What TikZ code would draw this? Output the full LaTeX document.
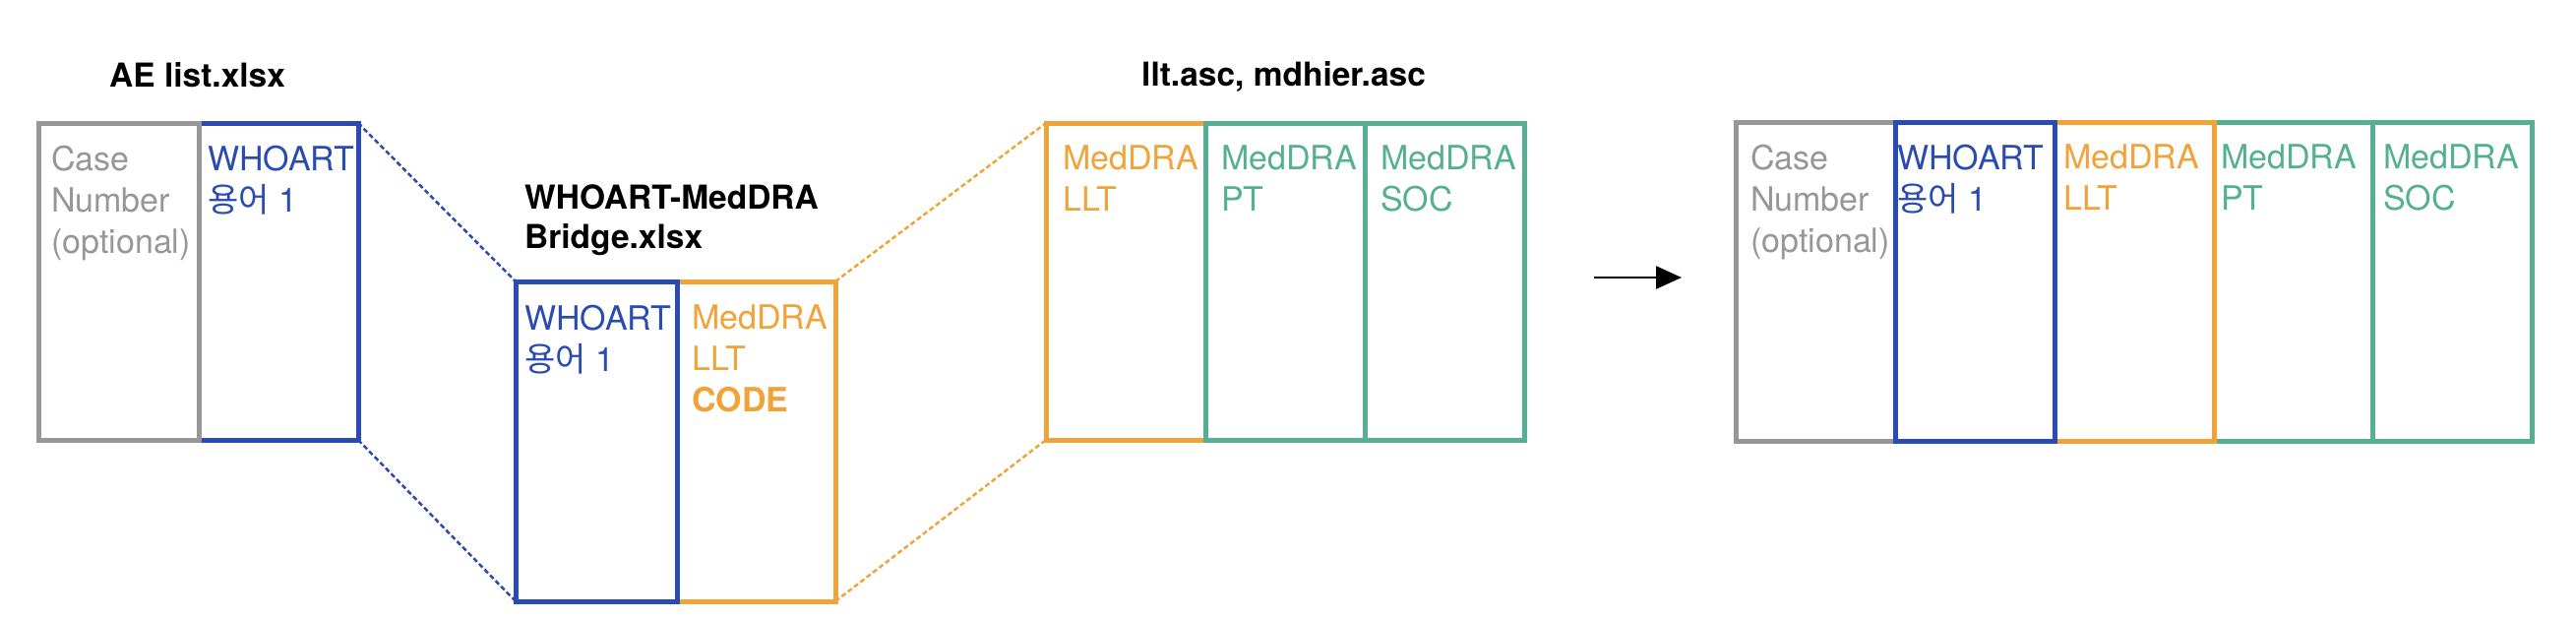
\documentclass[tikz,border=0pt]{standalone}
\usepackage{fontspec}
\setmainfont{TeX Gyre Heros}
\newfontfamily\cjk{Noto Sans CJK KR}
\usetikzlibrary{arrows.meta}
\definecolor{cgray}{HTML}{979797}
\definecolor{cblue}{HTML}{2A4BAF}
\definecolor{corange}{HTML}{F0A339}
\definecolor{cgreen}{HTML}{55AF93}
\begin{document}
\begin{tikzpicture}[x=1pt,y=-1pt,
  col/.style={draw=#1, line width=5pt, inner sep=0pt, outer sep=0pt, anchor=north west},
  txt/.style={text=#1, font=\fontsize{34}{42}\selectfont, align=left, inner sep=0pt, anchor=north west},
  ttl/.style={font=\fontsize{33.5}{40}\selectfont\bfseries, align=left, inner sep=0pt, anchor=north west},
  link/.style={draw=#1, line width=2.5pt, dash pattern=on 5pt off 3pt},
  arr/.style={line width=2.5pt, -{Triangle[length=26pt,width=23pt]}}
]
\useasboundingbox (0,0) rectangle (2618,629);

% ---- AE list.xlsx
\node[ttl] (t1) at (111,63) {AE list.xlsx};
\node[col=cblue, minimum width=162pt, minimum height=322pt] (Awho) at (202,125) {};
\node[col=cgray, minimum width=163pt, minimum height=322pt] (Acase) at (39,125) {};
\node[txt=cgray] (Acaset) at (52,148) {Case\\Number\\(optional)};
\node[txt=cblue] (Awhot) at (211,148) {WHOART\\{\cjk 용어} 1};

% ---- Bridge
\node[ttl] (t2) at (533,187) {WHOART-MedDRA\\Bridge.xlsx};
\node[col=corange, minimum width=161pt, minimum height=325pt] (Bllt) at (688,286) {};
\node[col=cblue, minimum width=164pt, minimum height=325pt] (Bwho) at (524,286) {};
\node[txt=cblue] (Bwhot) at (533,310) {WHOART\\{\cjk 용어} 1};
\node[txt=corange] (Bllt t) at (703,310) {MedDRA\\LLT\\\textbf{CODE}};

% ---- llt.asc, mdhier.asc
\node[ttl] (t3) at (1160,62) {llt.asc, mdhier.asc};
\node[col=corange, minimum width=162pt, minimum height=322pt] (Cllt) at (1063,125) {};
\node[col=cgreen, minimum width=162pt, minimum height=322pt] (Csoc) at (1387,125) {};
\node[col=cgreen, minimum width=162pt, minimum height=322pt] (Cpt) at (1225,125) {};
\node[txt=corange] (Cllt t) at (1080,148) {MedDRA\\LLT};
\node[txt=cgreen] (Cpt t) at (1241,148) {MedDRA\\PT};
\node[txt=cgreen] (Csoc t) at (1403,148) {MedDRA\\SOC};

% ---- connectors
\draw[link=cblue] (Awho.north east) -- (Bwho.north west);
\draw[link=cblue] (Awho.south east) -- (Bwho.south west);
\draw[link=corange] (Bllt.north east) -- (Cllt.north west);
\draw[link=corange] (Bllt.south east) -- (Cllt.south west);

% ---- arrow
\coordinate (a1) at (1620,282);
\coordinate (a2) at (1709,282);
\draw[arr] (a1) -- (a2);

% ---- result
\node[col=cgray, minimum width=162pt, minimum height=324pt] (Dcase) at (1764,124) {};
\node[col=cgreen, minimum width=162pt, minimum height=324pt] (Dsoc) at (2411,124) {};
\node[col=cgreen, minimum width=161pt, minimum height=324pt] (Dpt) at (2250,124) {};
\node[col=corange, minimum width=162pt, minimum height=324pt] (Dllt) at (2088,124) {};
\node[col=cblue, minimum width=162pt, minimum height=324pt] (Dwho) at (1926,124) {};
\node[txt=cgray] (Dcaset) at (1779,147) {Case\\Number\\(optional)};
\node[txt=cblue] (Dwhot) at (1928,147) {WHOART\\{\cjk 용어} 1};
\node[txt=corange] (Dllt t) at (2097,147) {MedDRA\\LLT};
\node[txt=cgreen] (Dpt t) at (2257,147) {MedDRA\\PT};
\node[txt=cgreen] (Dsoc t) at (2422,147) {MedDRA\\SOC};
\end{tikzpicture}
\end{document}
